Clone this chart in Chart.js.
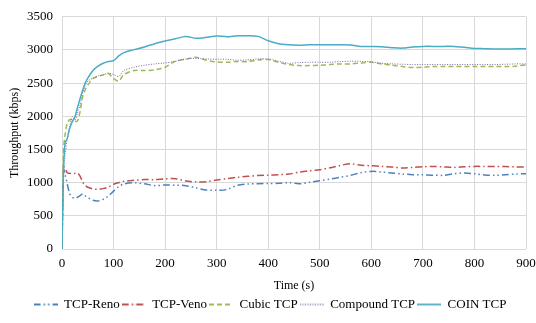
<!DOCTYPE html>
<html><head><meta charset="utf-8">
<script src="https://cdn.jsdelivr.net/npm/chart.js@4/dist/chart.umd.min.js"></script>
<style>html,body{margin:0;padding:0;background:#fff}#wrap{width:536px;height:323px}</style>
</head><body><div id="wrap"><canvas id="c" width="536" height="323"></canvas></div>
<script>
const times = [0,3,6,10,15,20,25,30,35,40,45,50,60,70,80,90,100,110,120,140,160,180,200,220,240,260,280,300,320,340,360,380,400,420,440,460,480,500,520,540,560,580,600,620,640,660,680,700,720,740,760,780,800,820,840,860,880,900];
const renoValues = [0,1200,1121,990,830,780,762,780,805,830,800,775,735,725,750,800,872,940,980,998,982,955,965,962,955,920,888,885,897,960,978,985,986,990,1000,983,1005,1030,1055,1081,1111,1150,1170,1160,1145,1130,1121,1118,1112,1111,1135,1145,1135,1115,1111,1120,1130,1135];
const venoValues = [0,1245,1220,1150,1140,1135,1140,1145,1100,1010,960,930,905,900,910,935,975,1000,1020,1035,1046,1046,1058,1060,1025,1012,1015,1040,1060,1080,1095,1108,1112,1120,1130,1158,1180,1196,1225,1260,1285,1262,1255,1245,1235,1222,1230,1240,1245,1238,1230,1238,1245,1245,1245,1242,1238,1235];
const cubicValues = [0,1500,1720,1890,1950,1945,1925,1930,2068,2290,2400,2470,2570,2600,2625,2645,2570,2530,2630,2690,2690,2700,2740,2830,2860,2890,2845,2820,2815,2825,2825,2850,2855,2815,2780,2765,2765,2770,2780,2790,2790,2805,2815,2790,2770,2750,2735,2740,2750,2750,2750,2750,2750,2750,2750,2750,2755,2775];
const compoundValues = [0,1200,1420,1650,1850,1993,1943,2050,2168,2350,2460,2530,2576,2610,2625,2650,2630,2600,2690,2740,2770,2790,2805,2830,2865,2872,2865,2860,2860,2845,2850,2865,2865,2830,2800,2810,2815,2815,2815,2825,2830,2830,2820,2800,2790,2785,2780,2780,2780,2780,2780,2780,2780,2780,2780,2785,2790,2790];
const coinValues = [0,1200,1600,1660,1820,1920,1990,2130,2266,2390,2500,2575,2690,2755,2800,2825,2840,2910,2960,3005,3045,3095,3135,3170,3204,3176,3190,3212,3199,3214,3214,3205,3140,3095,3078,3072,3078,3079,3078,3079,3075,3054,3052,3048,3035,3028,3045,3054,3054,3054,3054,3040,3024,3020,3015,3014,3018,3020];
const seriesNames = ['TCP-Reno','TCP-Veno','Cubic TCP','Compound TCP','COIN TCP'];
const xTicks = [0,100,200,300,400,500,600,700,800,900];
const yTicks = [0,500,1000,1500,2000,2500,3000,3500];

const pts = v => times.map((t,i)=>({x:t,y:v[i]}));
const FONT = "'Liberation Serif','Times New Roman',serif";
const styles = [
  {c:'#4F81BD', d:[7,3,1.5,3,1.5,3], w:1.5},
  {c:'#C0504D', d:[7,3,1.5,3], w:1.5},
  {c:'#9BBB59', d:[5,3], w:1.5},
  {c:'#8064A2', d:[1,1.5], w:1},
  {c:'#4BACC6', d:[], w:1.5}
];
const vals = [renoValues, venoValues, cubicValues, compoundValues, coinValues];
function sample(s){
  const cv=document.createElement('canvas'); cv.width=24; cv.height=4;
  const g=cv.getContext('2d'); g.strokeStyle=s.c; g.lineWidth=s.w+0.3; g.setLineDash(s.d);
  g.beginPath(); g.moveTo(0,2); g.lineTo(24,2); g.stroke(); return cv;
}
const samples = styles.map(sample);
const datasets = seriesNames.map((n,i)=>({
  label:n, data:pts(vals[i]), borderColor:styles[i].c, backgroundColor:styles[i].c,
  borderDash:styles[i].d, borderWidth:styles[i].w, pointRadius:0, tension:0.3, fill:false
}));
datasets.reverse();
new Chart(document.getElementById('c'), {
  type:'line',
  data:{datasets},
  options:{
    responsive:false, animation:false,
    layout:{padding:{top:6,right:0,left:4,bottom:2}},
    plugins:{
      legend:{position:'bottom',
        labels:{font:{family:FONT,size:13}, color:'#000', usePointStyle:true, pointStyleWidth:24, padding:2,
          generateLabels:(chart)=>seriesNames.map((n,i)=>({text:n, pointStyle:samples[i], fillStyle:styles[i].c, strokeStyle:styles[i].c, lineWidth:0, hidden:false, datasetIndex:4-i, fontColor:'#000'}))
        }},
      tooltip:{enabled:false}
    },
    scales:{
      x:{type:'linear', min:0, max:900,
        afterBuildTicks:a=>{a.ticks=xTicks.map(v=>({value:v}));},
        afterFit:a=>{a.paddingRight=10;},
        ticks:{font:{family:FONT,size:13}, color:'#000', maxRotation:0, padding:7, callback:v=>String(v)},
        grid:{color:'#d9d9d9', drawTicks:false}, border:{display:false},
        title:{display:true, text:'Time (s)', font:{family:FONT,size:12}, color:'#000', padding:{top:0,bottom:3}}
      },
      y:{min:0, max:3500,
        afterBuildTicks:a=>{a.ticks=yTicks.map(v=>({value:v}));},
        afterFit:a=>{a.width=58;},
        ticks:{font:{family:FONT,size:13}, color:'#000', padding:9, callback:v=>String(v)},
        grid:{color:'#d9d9d9', drawTicks:false}, border:{display:false},
        title:{display:true, text:'Throughput (kbps)', font:{family:FONT,size:12}, color:'#000', padding:{top:4,bottom:0}}
      }
    }
  }
});
</script></body></html>
